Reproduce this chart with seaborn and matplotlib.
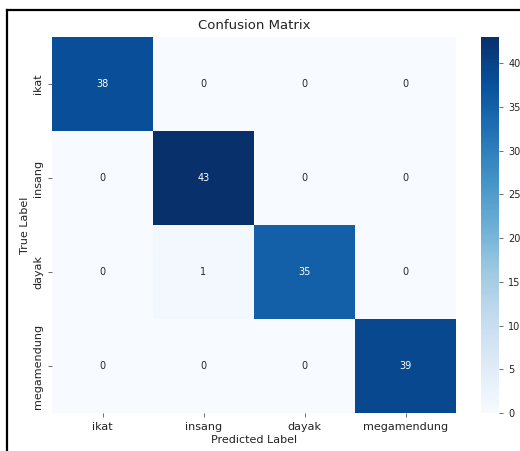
import matplotlib
matplotlib.use("Agg")
import matplotlib.pyplot as plt
from matplotlib.lines import Line2D
import numpy as np
import seaborn as sns

labels = ["ikat", "insang", "dayak", "megamendung"]
row_ikat = [38, 0, 0, 0]
row_insang = [0, 43, 0, 0]
row_dayak = [0, 1, 35, 0]
row_megamendung = [0, 0, 0, 39]

cm = np.array([row_ikat, row_insang, row_dayak, row_megamendung])

fig = plt.figure(figsize=(5.2, 4.51), dpi=100)
ax = fig.add_axes([0.1, 0.0843, 0.777, 0.8337])
cax = fig.add_axes([0.925, 0.0843, 0.035, 0.8337])

sns.heatmap(cm, annot=True, fmt="d", cmap="Blues", ax=ax, cbar_ax=cax,
            xticklabels=labels, yticklabels=labels,
            annot_kws={"fontsize": 7})

ax.set_title("Confusion Matrix", fontsize=9.5, pad=6, color="#222222")
ax.set_xlabel("Predicted Label", fontsize=8, labelpad=2, color="#222222")
ax.set_ylabel("True Label", fontsize=8, labelpad=2, color="#222222")
ax.tick_params(axis="both", labelsize=8, length=3, width=0.6,
               color="#555555", labelcolor="#222222")
ax.set_yticklabels(labels, rotation=90, va="center")
ax.set_xticklabels(labels, rotation=0)

cax.tick_params(labelsize=7, length=3, width=0.6, color="#555555",
                labelcolor="#222222")
cax.set_yticks([0, 5, 10, 15, 20, 25, 30, 35, 40])

# black frame along the left and top edges
fig.add_artist(Line2D([0.0144, 0.0144], [0.0, 0.978], color="black", lw=1.6,
                      transform=fig.transFigure))
fig.add_artist(Line2D([0.0144, 1.0], [0.978, 0.978], color="black", lw=1.6,
                      transform=fig.transFigure))

fig.savefig("out.png", dpi=100)
